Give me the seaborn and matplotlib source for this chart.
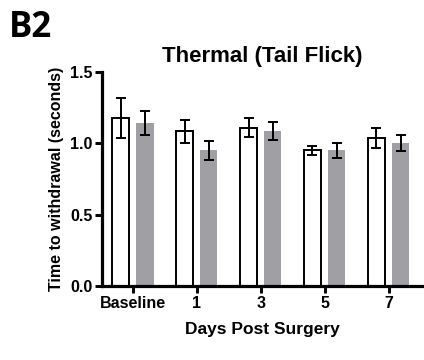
import numpy as np
import pandas as pd
import matplotlib
matplotlib.use("Agg")
import matplotlib.pyplot as plt
import seaborn as sns

# Tail flick withdrawal latency by day, two groups
days = ["Baseline", "1", "3", "5", "7"]
groups = ["Group A", "Group B"]
mean_a = [1.18, 1.085, 1.11, 0.95, 1.035]
sem_a = [0.14, 0.08, 0.065, 0.03, 0.07]
mean_b = [1.14, 0.95, 1.085, 0.95, 1.00]
sem_b = [0.085, 0.065, 0.065, 0.05, 0.055]
y_ticks = [0.0, 0.5, 1.0, 1.5]

df = pd.DataFrame({
    "day": days * 2,
    "group": [groups[0]] * len(days) + [groups[1]] * len(days),
    "value": mean_a + mean_b,
    "err": sem_a + sem_b,
})

sns.set_theme(style="ticks")
plt.rcParams["font.family"] = ["Liberation Sans", "DejaVu Sans"]
plt.rcParams["font.weight"] = "bold"
plt.rcParams["text.color"] = "black"
plt.rcParams["axes.labelcolor"] = "black"
plt.rcParams["xtick.color"] = "black"
plt.rcParams["ytick.color"] = "black"

fig = plt.figure(figsize=(4.24, 3.60), dpi=100)
ax = fig.add_axes([0.2406, 0.2056, 0.7544, 0.5944])

gray = "#a0a0a4"
sns.barplot(data=df, x="day", y="value", hue="group", order=days,
            hue_order=groups, palette=["white", gray], width=0.76, gap=0.29,
            errorbar=None, legend=False, ax=ax)

# Style bars: open bars with black outline, filled bars without
n = len(days)
for i, patch in enumerate(ax.patches[:2 * n]):
    if i < n:
        patch.set_edgecolor("black")
        patch.set_linewidth(1.4)
    else:
        patch.set_edgecolor("none")
        patch.set_linewidth(0)

# Error bars at bar centres
for i, patch in enumerate(ax.patches[:2 * n]):
    xc = patch.get_x() + patch.get_width() / 2
    if i < n:
        m, e = mean_a[i], sem_a[i]
    else:
        m, e = mean_b[i - n], sem_b[i - n]
    ax.errorbar(xc, m, yerr=e, color="black", elinewidth=1.4,
                capsize=3.4, capthick=1.4, zorder=5)

ax.set_xlim(-0.48, 4.52)
ax.set_ylim(0, 1.5)
ax.set_yticks(y_ticks)
ax.set_yticklabels([f"{t:.1f}" for t in y_ticks])

for side in ["top", "right"]:
    ax.spines[side].set_visible(False)
for side in ["left", "bottom"]:
    ax.spines[side].set_linewidth(2.3)
    ax.spines[side].set_color("black")
ax.tick_params(axis="both", width=2.1, length=5, color="black",
               labelcolor="black", labelsize=11.5, pad=2)
for lbl in ax.get_xticklabels() + ax.get_yticklabels():
    lbl.set_fontweight("bold")

ax.set_xlabel("Days Post Surgery", fontsize=12.5, fontweight="bold",
              labelpad=8, color="black")
ax.set_ylabel("Time to withdrawal (seconds)", fontsize=11.5,
              fontweight="bold", labelpad=4, color="black")
ax.set_title("Thermal (Tail Flick)", fontsize=16, fontweight="bold", pad=7,
             color="black")

fig.text(0.02, 0.972, "B2", fontsize=25, fontweight="bold", color="black",
         family=["Open Sans", "DejaVu Sans"], va="top", ha="left")

fig.savefig("out.png", dpi=100)
